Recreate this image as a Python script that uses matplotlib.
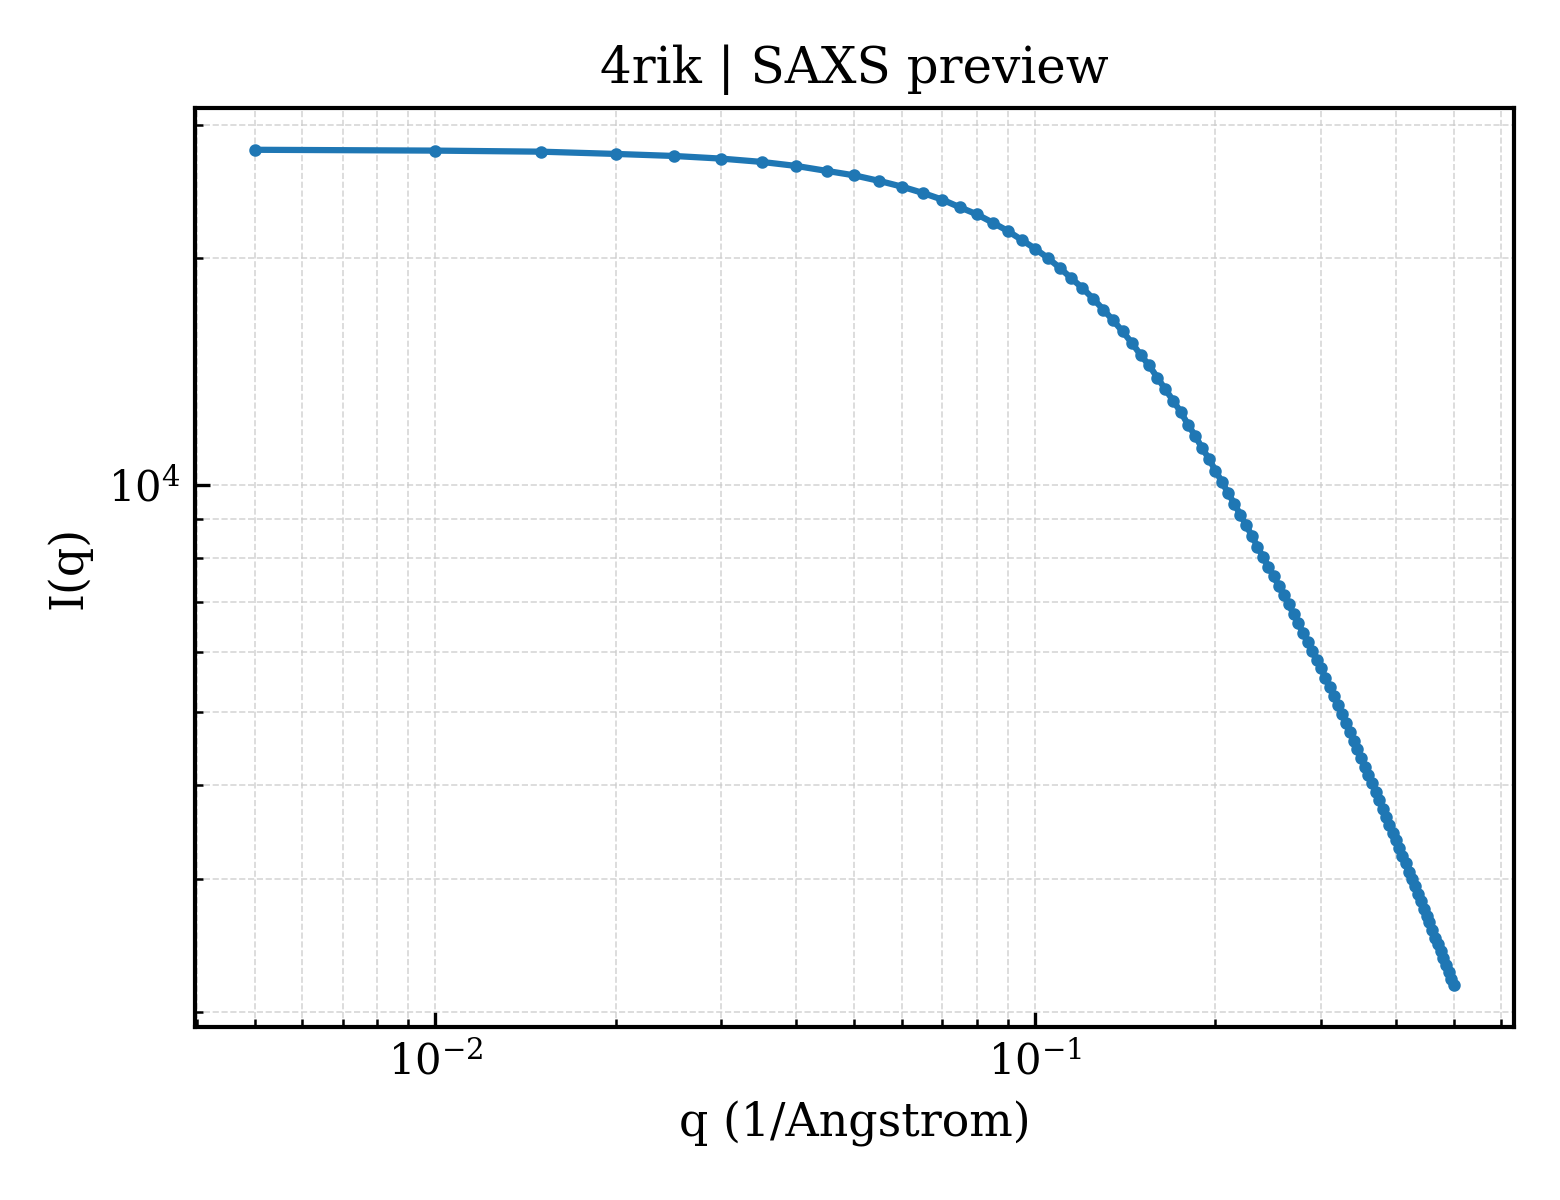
import matplotlib
matplotlib.use("Agg")
import matplotlib.pyplot as plt

q = [0.005, 0.010, 0.015, 0.020, 0.025, 0.030, 0.035, 0.040, 0.045, 0.050,
     0.055, 0.060, 0.065, 0.070, 0.075, 0.080, 0.085, 0.090, 0.095, 0.100,
     0.105, 0.110, 0.115, 0.120, 0.125, 0.130, 0.135, 0.140, 0.145, 0.150,
     0.155, 0.160, 0.165, 0.170, 0.175, 0.180, 0.185, 0.190, 0.195, 0.200,
     0.205, 0.210, 0.215, 0.220, 0.225, 0.230, 0.235, 0.240, 0.245, 0.250,
     0.255, 0.260, 0.265, 0.270, 0.275, 0.280, 0.285, 0.290, 0.295, 0.300,
     0.305, 0.310, 0.315, 0.320, 0.325, 0.330, 0.335, 0.340, 0.345, 0.350,
     0.355, 0.360, 0.365, 0.370, 0.375, 0.380, 0.385, 0.390, 0.395, 0.400,
     0.405, 0.410, 0.415, 0.420, 0.425, 0.430, 0.435, 0.440, 0.445, 0.450,
     0.455, 0.460, 0.465, 0.470, 0.475, 0.480, 0.485, 0.490, 0.495, 0.500]

intensity = [27800, 27730, 27640, 27450, 27280, 27060, 26790, 26460, 26060, 25710,
             25280, 24840, 24370, 23880, 23320, 22830, 22260, 21710, 21120, 20560,
             19990, 19390, 18780, 18230, 17650, 17070, 16520, 15970, 15430, 14870,
             14400, 13870, 13380, 12930, 12490, 12020, 11610, 11190, 10830, 10440,
             10090, 9750, 9440, 9130, 8840, 8560, 8280, 8030, 7790, 7570,
             7350, 7140, 6940, 6740, 6550, 6360, 6190, 6020, 5860, 5710,
             5550, 5400, 5250, 5110, 4970, 4830, 4700, 4580, 4460, 4350,
             4230, 4130, 4020, 3920, 3820, 3720, 3630, 3540, 3460, 3380,
             3300, 3220, 3150, 3070, 3000, 2940, 2870, 2810, 2740, 2680,
             2630, 2570, 2510, 2460, 2410, 2360, 2310, 2260, 2210, 2170]

title = "4rik | SAXS preview"
xlabel = "q (1/Angstrom)"
ylabel = "I(q)"

plt.rcParams['font.family'] = 'DejaVu Serif'
plt.rcParams['mathtext.fontset'] = 'dejavuserif'

fig = plt.figure(figsize=(5.2, 4.0), dpi=300)
ax = fig.add_axes([0.125, 0.144, 0.8455, 0.766])

ax.plot(q, intensity, '-o', color='#1f77b4', lw=1.5, ms=2.0)
ax.set_xscale('log')
ax.set_yscale('log')

ax.grid(True, which='both', ls='--', lw=0.4, color='#cccccc', alpha=0.8)
ax.tick_params(which='both', direction='in')
ax.tick_params(labelsize=10)
for s in ax.spines.values():
    s.set_linewidth(1.0)

ax.set_title(title, fontsize=12)
ax.set_xlabel(xlabel, fontsize=11)
ax.set_ylabel(ylabel, fontsize=11)

fig.savefig("out.png", dpi=300)
